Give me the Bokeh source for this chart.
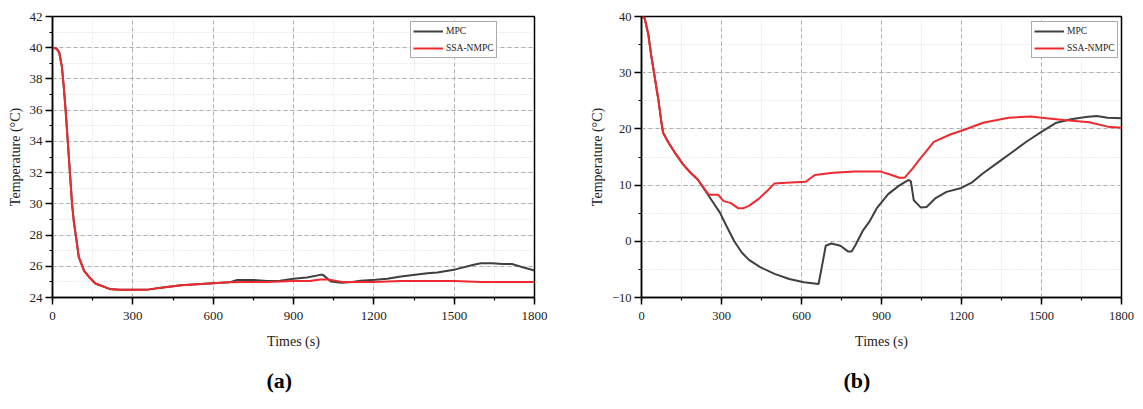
from bokeh.plotting import figure
from bokeh.layouts import row
from bokeh.models import Legend, LegendItem, SingleIntervalTicker, Title, Range1d
from bokeh.embed import file_html
from bokeh.resources import INLINE

# ---------------- data ----------------
# Panel (a)
a_ssa_t = [0, 15, 25, 35, 42, 49, 57, 65, 73, 80, 87, 98, 118, 140, 160, 213, 250, 300,
           360, 420, 480, 540, 600, 660, 720, 800, 900, 960, 1000, 1030, 1080, 1200,
           1300, 1500, 1600, 1800]
a_ssa_y = [40, 39.95, 39.7, 38.8, 37.5, 36.0, 34.0, 32.0, 30.0, 28.8, 28.0, 26.6, 25.7,
           25.25, 24.9, 24.55, 24.5, 24.5, 24.52, 24.65, 24.78, 24.85, 24.92, 24.97, 25.0,
           25.0, 25.05, 25.05, 25.15, 25.15, 25.0, 25.0, 25.05, 25.05, 25.0, 25.0]
a_mpc_t = [0, 15, 25, 35, 42, 49, 57, 65, 73, 80, 87, 98, 118, 140, 160, 213, 250, 300,
           360, 420, 480, 540, 600, 660, 690, 750, 800, 850, 900, 950, 1000, 1010, 1040,
           1080, 1120, 1150, 1206, 1250, 1301, 1400, 1437, 1505, 1573, 1600, 1641, 1682,
           1716, 1763, 1800]
a_mpc_y = [40, 39.95, 39.7, 38.8, 37.5, 36.0, 34.0, 32.0, 30.0, 28.8, 28.0, 26.6, 25.7,
           25.25, 24.9, 24.55, 24.5, 24.5, 24.52, 24.65, 24.78, 24.85, 24.92, 24.97, 25.12,
           25.12, 25.05, 25.08, 25.2, 25.28, 25.45, 25.45, 25.02, 24.95, 25.0, 25.08, 25.14,
           25.2, 25.35, 25.55, 25.6, 25.8, 26.1, 26.2, 26.2, 26.15, 26.15, 25.9, 25.73]

# Panel (b)
b_ssa_t = [0, 12, 26, 36, 47, 58, 64, 74, 81, 102, 129, 156, 184, 211, 252, 287, 307, 335,
           362, 383, 403, 438, 472, 499, 541, 616, 650, 719, 801, 897, 938, 966, 986, 1014,
           1048, 1069, 1096, 1158, 1213, 1281, 1377, 1460, 1501, 1583, 1679, 1748, 1800]
b_ssa_y = [40, 39.7, 36.7, 33.2, 30, 26.7, 25, 21.4, 19.3, 17.5, 15.5, 13.7, 12.2, 11, 8.3,
           8.3, 7.2, 6.8, 5.9, 5.9, 6.3, 7.5, 9, 10.3, 10.4, 10.6, 11.8, 12.2, 12.4, 12.4,
           11.8, 11.3, 11.3, 12.8, 14.9, 16.1, 17.7, 19, 19.9, 21.1, 22, 22.2, 22, 21.6,
           21.2, 20.4, 20.2]
b_mpc_t = [0, 12, 26, 36, 47, 58, 64, 74, 81, 102, 129, 156, 184, 211, 245, 273, 294, 321,
           348, 376, 403, 445, 499, 554, 609, 664, 678, 691, 712, 746, 774, 788, 801, 829,
           856, 884, 925, 966, 1000, 1010, 1021, 1048, 1069, 1103, 1144, 1199, 1240, 1281,
           1336, 1391, 1446, 1501, 1556, 1611, 1666, 1707, 1748, 1800]
b_mpc_y = [40, 39.7, 36.7, 33.2, 30, 26.7, 25, 21.4, 19.3, 17.5, 15.5, 13.7, 12.2, 11, 8.6,
           6.6, 5.1, 2.5, 0, -2, -3.3, -4.6, -5.8, -6.7, -7.3, -7.6, -4.1, -0.8, -0.4, -0.8,
           -1.8, -1.8, -0.8, 1.8, 3.6, 6, 8.4, 9.9, 10.9, 10.7, 7.3, 6, 6.1, 7.7, 8.8, 9.5,
           10.5, 12.1, 14, 15.9, 17.8, 19.5, 21.1, 21.7, 22.1, 22.3, 22, 21.9]

series_names = ["MPC", "SSA-NMPC"]
x_label = "Times (s)"
y_label = "Temperature (°C)"

FONT = "Liberation Serif"
RED = "#ee2a2e"
GRAY = "#3f3f3f"


def panel(mpc_t, mpc_y, ssa_t, ssa_y, yr, yint, caption, width, bl, br, bt, bb,
          legend_xy, cap_offset, tick_size, overrides=None):
    p = figure(width=width, height=408, output_backend="svg", toolbar_location=None,
               x_range=Range1d(0, 1800), y_range=Range1d(*yr),
               min_border_left=bl, min_border_right=br, min_border_top=bt,
               min_border_bottom=bb)
    p.background_fill_color = "white"
    p.border_fill_color = "white"
    p.outline_line_color = "black"
    p.outline_line_width = 1.5
    p.outline_line_alpha = 1.0

    xt = SingleIntervalTicker(interval=300, num_minor_ticks=2)
    yt = SingleIntervalTicker(interval=yint, num_minor_ticks=2)
    p.xaxis.ticker = xt
    p.yaxis.ticker = yt
    p.xgrid.ticker = xt
    p.ygrid.ticker = yt

    for g in (p.xgrid, p.ygrid):
        g.grid_line_color = "#a8a8a8"
        g.grid_line_dash = "4 3"
        g.grid_line_width = 0.9
        g.minor_grid_line_color = "#d4d4d4"
        g.minor_grid_line_dash = "1 2"
        g.minor_grid_line_width = 0.9

    for ax in (p.xaxis, p.yaxis):
        ax.axis_line_color = "black"
        ax.axis_line_width = 1.5
        ax.major_tick_in = 0
        ax.major_tick_out = 7
        ax.minor_tick_in = 0
        ax.minor_tick_out = 3
        ax.major_tick_line_width = 1.5
        ax.minor_tick_line_width = 1.2
        ax.major_tick_line_color = "black"
        ax.minor_tick_line_color = "black"
        ax.major_label_text_font = FONT
        ax.major_label_text_font_size = tick_size
        ax.major_label_text_color = "#222222"
        ax.axis_label_text_font = FONT
        ax.axis_label_text_font_size = "14px"
        ax.axis_label_text_font_style = "normal"
        ax.axis_label_text_color = "#222222"
    p.xaxis.axis_label = x_label
    p.yaxis.axis_label = y_label
    p.xaxis.major_label_standoff = 7
    p.xaxis.axis_label_standoff = 11
    p.yaxis.major_label_standoff = 3
    p.yaxis.axis_label_standoff = 4
    if overrides:
        p.yaxis.major_label_overrides = overrides

    r_mpc = p.line(mpc_t, mpc_y, line_color=GRAY, line_width=2)
    r_ssa = p.line(ssa_t, ssa_y, line_color=RED, line_width=2)

    leg = Legend(items=[LegendItem(label=series_names[0], renderers=[r_mpc]),
                        LegendItem(label=series_names[1], renderers=[r_ssa])],
                 location=legend_xy, orientation="vertical")
    leg.margin = 0
    leg.padding = 2
    leg.spacing = 3
    leg.glyph_width = 30
    leg.glyph_height = 14
    leg.label_height = 14
    leg.label_standoff = 3
    leg.label_text_font = FONT
    leg.label_text_font_size = "9.5px"
    leg.label_text_color = "#222222"
    leg.border_line_color = "#555555"
    leg.border_line_width = 1
    leg.background_fill_color = "white"
    leg.background_fill_alpha = 1
    p.add_layout(leg)

    t = Title(text=caption, align="left", offset=cap_offset, text_font=FONT,
              text_font_size="22px", text_font_style="bold", text_color="black",
              standoff=28)
    p.add_layout(t, "below")
    return p


pa = panel(a_mpc_t, a_mpc_y, a_ssa_t, a_ssa_y, (24, 42), 2, "(a)", 571, 52, 37, 16, 107,
           (358, 239), 214, "13px")
pb = panel(b_mpc_t, b_mpc_y, b_ssa_t, b_ssa_y, (-10, 40), 10, "(b)", 572, 70, 22, 15, 111,
           (390, 239), 202, "12.5px", overrides={-10: "\u221210"})

layout = row(pa, pb)
open("out.html", "w").write(file_html(layout, INLINE))
